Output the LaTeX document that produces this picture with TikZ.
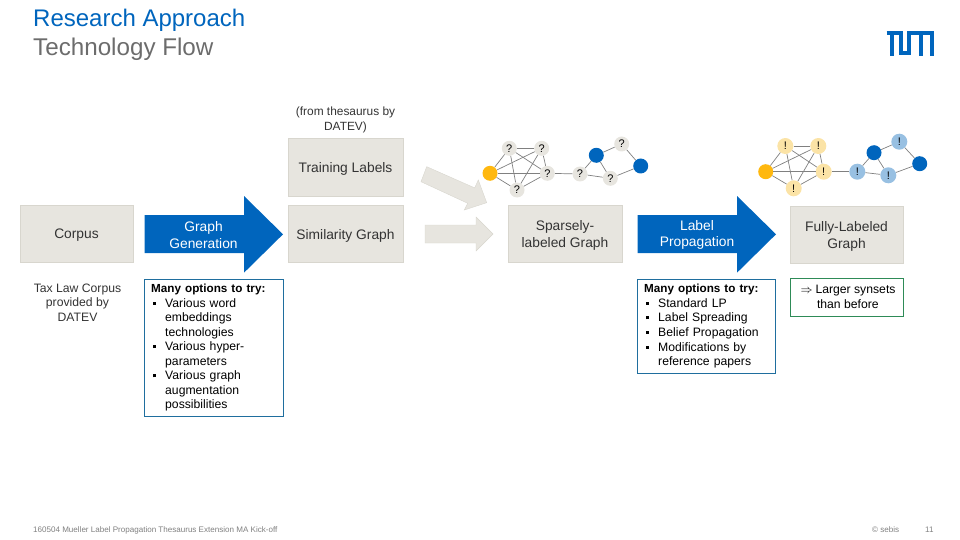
\documentclass[tikz,border=0pt]{standalone}
\usepackage{fontspec}
\setmainfont{Liberation Sans}
\usetikzlibrary{shapes,arrows}
\definecolor{tumblue}{HTML}{0065BD}
\definecolor{tumgray}{HTML}{E7E5DF}
\definecolor{tumline}{HTML}{D8D6CE}
\definecolor{tumframe}{HTML}{1F6E9E}
\definecolor{tumgreen}{HTML}{2E8B57}
\definecolor{tumyellow}{HTML}{FFB80F}
\definecolor{lightyellow}{HTML}{FBE3A6}
\definecolor{lightblue}{HTML}{98C0E2}
\definecolor{bodytext}{HTML}{333333}
\tikzstyle{block} = [rectangle, draw=tumline, fill=tumgray, inner sep=0pt]
\tikzstyle{blocktext} = [align=center, text=bodytext, yshift=-2pt, inner sep=0pt, font=\fontsize{13.8}{16.5}\selectfont]
\tikzstyle{optbox} = [rectangle, draw=tumframe, align=left, anchor=north west, text=black, font=\fontsize{12.2}{14.55}\selectfont, inner sep=0pt]
\tikzstyle{note} = [align=center, text=bodytext, font=\fontsize{12.2}{14.5}\selectfont, inner sep=0pt]
\tikzstyle{bigarrow} = [fill=tumblue]
\tikzstyle{arrowtext} = [align=center, text=white, inner sep=0pt, font=\fontsize{13.8}{16.5}\selectfont]
\tikzstyle{smallarrow} = [fill=tumgray, draw=tumline]
\tikzstyle{dot} = [circle, minimum size=15pt, inner sep=0pt, font=\fontsize{11}{11}\selectfont]
\tikzstyle{askdot} = [dot, fill=tumgray]
\tikzstyle{seeddot} = [dot, fill=tumyellow]
\tikzstyle{bluedot} = [dot, fill=tumblue]
\tikzstyle{gotyellow} = [dot, minimum size=16pt, fill=lightyellow]
\tikzstyle{gotblue} = [dot, minimum size=16pt, fill=lightblue]
\tikzstyle{edge} = [draw=gray, line width=0.7pt]
\tikzstyle{footer} = [text=gray, inner sep=0pt, font=\fontsize{8.05}{9}\selectfont]
\newcommand{\optitem}{\hspace*{1.5pt}\rule[2.5pt]{3pt}{3pt}\hspace{9.5pt}}
\newcommand{\optcont}{\hspace*{14pt}}
\newcommand{\boldline}[1]{{\fontsize{11.7}{14.55}\selectfont\textbf{#1}}}

\begin{document}
\begin{tikzpicture}[x=1pt, y=-1pt]
\useasboundingbox (0,0) rectangle (960,540);

%% header
\node[tumblue, anchor=base west, inner sep=0pt, font=\fontsize{24}{26}\selectfont] at (33, 26.5) (title) {Research Approach};
\node[gray!85!black, anchor=base west, inner sep=0pt, font=\fontsize{24.2}{26}\selectfont] at (33, 55.5) (subtitle) {Technology Flow};
\path[draw=tumblue, line width=4pt] (886.7, 33) -- (903.3, 33) (892, 33) -- (892, 55.7)
  (901.3, 33) -- (901.3, 53.5) -- (909.3, 53.5) -- (909.3, 33) -- (933.7, 33)
  (931.7, 33) -- (931.7, 55.7)
  (920.5, 33) -- (920.5, 55.7);

%% top row
\node[note, font=\fontsize{11.9}{14.5}\selectfont] at (345.5, 120) (source) {(from thesaurus by\\DATEV)};
\node[block, minimum width=115pt, minimum height=58pt] at (345.5, 167) (labels) {};
\node[blocktext] at (labels) (labelstext) {Training Labels};

%% main row
\node[block, minimum width=113pt, minimum height=57pt] at (76.5, 233.5) (corpus) {};
\node[blocktext] at (corpus) (corpustext) {Corpus};
\path[bigarrow] (144.5, 215) -- (244, 215) -- (244, 196) -- (283, 234.3) -- (244, 272.7) -- (244, 253) -- (144.5, 253) -- cycle;
\node[arrowtext] at (203.5, 235) (graphgen) {Graph\\Generation};
\node[block, minimum width=115pt, minimum height=57pt] at (345.5, 233.5) (simgraph) {};
\node[blocktext] at (simgraph) (simtext) {Similarity Graph};
\path[smallarrow] (425, 225) -- (476, 225) -- (476, 217) -- (493, 234) -- (476, 251) -- (476, 243) -- (425, 243) -- cycle;
\path[smallarrow] (426.7, 166.7) -- (474.7, 187.9) -- (478.3, 180) -- (486.7, 202.7) -- (464.3, 210) -- (467.7, 203.3) -- (421, 181.7) -- cycle;
\node[block, minimum width=114pt, minimum height=57pt] at (565, 233.5) (sparse) {};
\node[blocktext] at (sparse) (sparsetext) {Sparsely-\\labeled Graph};
\path[bigarrow] (637.5, 215) -- (737, 215) -- (737, 196) -- (776, 234.3) -- (737, 272.7) -- (737, 253) -- (637.5, 253) -- cycle;
\node[arrowtext] at (697, 235) (labelprop) {Label\\Propagation};
\node[block, minimum width=113pt, minimum height=57pt] at (846.5, 234.5) (full) {};
\node[blocktext] at (full) (fulltext) {Fully-Labeled\\Graph};

%% notes below
\node[note] at (77.5, 302.5) (corpusnote) {Tax Law Corpus\\provided by\\DATEV};
\node[optbox, minimum width=139pt, minimum height=137pt, text width=125pt, inner xsep=7pt] at (144, 279) (graphopts) {\boldline{Many options to try:}\\
\optitem Various word\\
\optcont embeddings\\
\optcont technologies\\
\optitem Various hyper-\\
\optcont parameters\\
\optitem Various graph\\
\optcont augmentation\\
\optcont possibilities};
\node[optbox, minimum width=138pt, minimum height=94pt, text width=124pt, inner xsep=7pt] at (637, 279) (labelopts) {\boldline{Many options to try:}\\
\optitem Standard LP\\
\optitem Label Spreading\\
\optitem Belief Propagation\\
\optitem Modifications by\\
\optcont reference papers};
\node[note, align=left, text=black, rectangle, draw=tumgreen, minimum width=113pt, minimum height=38pt] at (846.5, 297) (result) {\hspace*{3pt}$\Rightarrow$\hspace{3pt}Larger synsets\\\hspace*{19.5pt}than before};

%% sparsely labeled graph
\node[seeddot] at (490, 173.3) (ya) {};
\node[askdot] at (509.3, 148.3) (qa) {?};
\node[askdot] at (541.7, 148.3) (qb) {?};
\node[askdot] at (547.3, 173.3) (qc) {?};
\node[askdot] at (517, 190) (qd) {?};
\node[askdot] at (580, 174) (qe) {?};
\node[bluedot] at (596.3, 155.3) (ba) {};
\node[askdot] at (621.7, 144) (qf) {?};
\node[askdot] at (610.3, 178.3) (qg) {?};
\node[bluedot] at (640.7, 166) (bb) {};
\path[edge] (ya) -- (qa);
\path[edge] (ya) -- (qb);
\path[edge] (ya) -- (qc);
\path[edge] (ya) -- (qd);
\path[edge] (qa) -- (qb);
\path[edge] (qa) -- (qc);
\path[edge] (qa) -- (qd);
\path[edge] (qb) -- (qc);
\path[edge] (qb) -- (qd);
\path[edge] (qc) -- (qd);
\path[edge] (qc) -- (qe);
\path[edge] (qe) -- (ba);
\path[edge] (qe) -- (qg);
\path[edge] (ba) -- (qf);
\path[edge] (ba) -- (qg);
\path[edge] (qf) -- (bb);
\path[edge] (qg) -- (bb);

%% fully labeled graph
\node[seeddot] at (765.7, 171.7) (yb) {};
\node[gotyellow] at (785.3, 146) (ea) {!};
\node[gotyellow] at (818.3, 146) (eb) {!};
\node[gotyellow] at (823.7, 171.7) (ec) {!};
\node[gotyellow] at (793.7, 188.3) (ed) {!};
\node[gotblue] at (857.3, 171.7) (ee) {!};
\node[bluedot] at (874, 152.7) (bc) {};
\node[gotblue] at (899.3, 141.7) (ef) {!};
\node[gotblue] at (888.3, 175.3) (eg) {!};
\node[bluedot] at (919.7, 163.7) (bd) {};
\path[edge] (yb) -- (ea);
\path[edge] (yb) -- (eb);
\path[edge] (yb) -- (ec);
\path[edge] (yb) -- (ed);
\path[edge] (ea) -- (eb);
\path[edge] (ea) -- (ec);
\path[edge] (ea) -- (ed);
\path[edge] (eb) -- (ec);
\path[edge] (eb) -- (ed);
\path[edge] (ec) -- (ed);
\path[edge] (ec) -- (ee);
\path[edge] (ee) -- (bc);
\path[edge] (ee) -- (eg);
\path[edge] (bc) -- (ef);
\path[edge] (bc) -- (eg);
\path[edge] (ef) -- (bd);
\path[edge] (eg) -- (bd);

%% footer
\node[footer, anchor=base west] at (33, 532) (footleft) {160504 Mueller Label Propagation Thesaurus Extension MA Kick-off};
\node[footer, anchor=base west] at (872, 532) (footmid) {© sebis};
\node[footer, anchor=base west] at (925, 532) (footpage) {11};
\end{tikzpicture}
\end{document}
